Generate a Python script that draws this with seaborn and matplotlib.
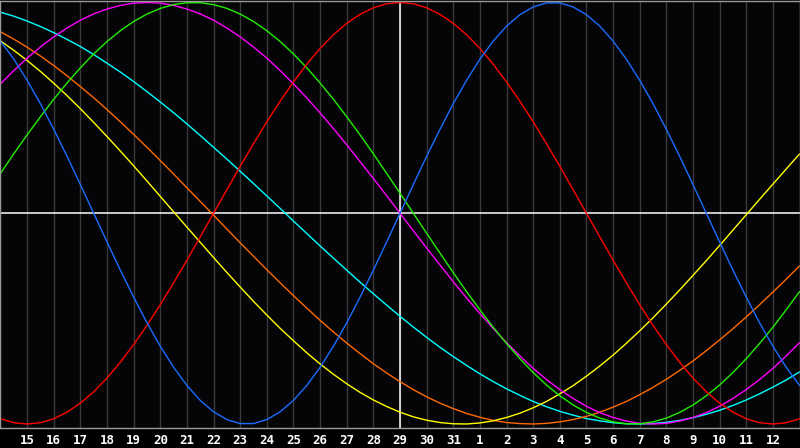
import pandas as pd
import seaborn as sns
import matplotlib.pyplot as plt

# дни на оси: 0 = 14 января ... 30 = 13 февраля, сегодня = 29 января
# значения сняты с графика с шагом в полдня
day_index = [h / 2 for h in range(61)]
tick_days = list(range(1, 30))
tick_labels = [str(d) for d in list(range(15, 32)) + list(range(1, 13))]
today = 15

# значения циклов (от -1 до 1)
physical = [0.817, 0.731, 0.631, 0.520, 0.398, 0.270, 0.136, 0.0, -0.136, -0.270,
            -0.398, -0.520, -0.631, -0.731, -0.817, -0.888, -0.942, -0.979, -0.998, -0.998,
            -0.979, -0.942, -0.888, -0.817, -0.731, -0.631, -0.520, -0.398, -0.270, -0.136,
            0.0, 0.136, 0.270, 0.398, 0.520, 0.631, 0.731, 0.817, 0.888, 0.942,
            0.979, 0.998, 0.998, 0.979, 0.942, 0.888, 0.817, 0.731, 0.631, 0.520,
            0.398, 0.270, 0.136, 0.0, -0.136, -0.270, -0.398, -0.520, -0.631, -0.731, -0.817]
emotional = [-0.975, -0.994, -1.0, -0.994, -0.975, -0.944, -0.901, -0.847, -0.782, -0.707,
             -0.623, -0.532, -0.434, -0.330, -0.223, -0.112, 0.0, 0.112, 0.223, 0.330,
             0.434, 0.532, 0.623, 0.707, 0.782, 0.847, 0.901, 0.944, 0.975, 0.994,
             1.0, 0.994, 0.975, 0.944, 0.901, 0.847, 0.782, 0.707, 0.623, 0.532,
             0.434, 0.330, 0.223, 0.112, 0.0, -0.112, -0.223, -0.330, -0.434, -0.532,
             -0.623, -0.707, -0.782, -0.847, -0.901, -0.944, -0.975, -0.994, -1.0, -0.994, -0.975]
intellectual = [0.189, 0.282, 0.372, 0.458, 0.541, 0.618, 0.690, 0.756, 0.815, 0.866,
                0.910, 0.945, 0.972, 0.990, 0.999, 0.999, 0.990, 0.972, 0.945, 0.910,
                0.866, 0.815, 0.756, 0.690, 0.618, 0.541, 0.458, 0.372, 0.282, 0.189,
                0.095, 0.0, -0.095, -0.189, -0.282, -0.372, -0.458, -0.541, -0.618, -0.690,
                -0.756, -0.815, -0.866, -0.910, -0.945, -0.972, -0.990, -0.999, -0.999, -0.990,
                -0.972, -0.945, -0.910, -0.866, -0.815, -0.756, -0.690, -0.618, -0.541, -0.458, -0.372]
intuition = [0.614, 0.677, 0.736, 0.789, 0.837, 0.879, 0.916, 0.946, 0.969, 0.986,
             0.997, 1.0, 0.997, 0.986, 0.969, 0.946, 0.916, 0.879, 0.837, 0.789,
             0.736, 0.677, 0.614, 0.547, 0.476, 0.402, 0.325, 0.245, 0.165, 0.083,
             0.0, -0.083, -0.165, -0.245, -0.325, -0.402, -0.476, -0.547, -0.614, -0.677,
             -0.736, -0.789, -0.837, -0.879, -0.916, -0.946, -0.969, -0.986, -0.997, -1.0,
             -0.997, -0.986, -0.969, -0.946, -0.916, -0.879, -0.837, -0.789, -0.736, -0.677, -0.614]
aesthetic = [0.818, 0.773, 0.725, 0.673, 0.617, 0.558, 0.496, 0.431, 0.364, 0.295,
             0.225, 0.153, 0.080, 0.007, -0.066, -0.138, -0.210, -0.281, -0.350, -0.418,
             -0.483, -0.546, -0.605, -0.662, -0.715, -0.764, -0.809, -0.850, -0.886, -0.917,
             -0.944, -0.966, -0.982, -0.993, -0.999, -1.0, -0.995, -0.985, -0.969, -0.949,
             -0.923, -0.893, -0.857, -0.818, -0.773, -0.725, -0.673, -0.617, -0.558, -0.496,
             -0.431, -0.364, -0.295, -0.225, -0.153, -0.080, -0.007, 0.066, 0.138, 0.210, 0.281]
awareness = [0.861, 0.826, 0.788, 0.746, 0.701, 0.652, 0.601, 0.548, 0.492, 0.434,
             0.374, 0.313, 0.250, 0.186, 0.121, 0.056, -0.009, -0.075, -0.140, -0.204,
             -0.268, -0.330, -0.391, -0.450, -0.508, -0.563, -0.616, -0.666, -0.714, -0.758,
             -0.799, -0.837, -0.871, -0.901, -0.927, -0.950, -0.968, -0.983, -0.993, -0.998,
             -1.0, -0.997, -0.990, -0.979, -0.964, -0.944, -0.920, -0.893, -0.861, -0.826,
             -0.788, -0.746, -0.701, -0.652, -0.601, -0.548, -0.492, -0.434, -0.374, -0.313, -0.250]
spiritual = [0.954, 0.935, 0.912, 0.886, 0.857, 0.825, 0.791, 0.753, 0.712, 0.670,
             0.625, 0.577, 0.528, 0.477, 0.424, 0.369, 0.313, 0.257, 0.199, 0.141,
             0.082, 0.023, -0.037, -0.096, -0.155, -0.213, -0.270, -0.327, -0.382, -0.436,
             -0.489, -0.540, -0.589, -0.636, -0.680, -0.722, -0.762, -0.799, -0.833, -0.864,
             -0.893, -0.918, -0.940, -0.958, -0.974, -0.985, -0.994, -0.999, -1.0, -0.998,
             -0.992, -0.983, -0.970, -0.954, -0.935, -0.912, -0.886, -0.857, -0.825, -0.791, -0.753]

cycles = {
    'spiritual': spiritual,
    'awareness': awareness,
    'aesthetic': aesthetic,
    'intuition': intuition,
    'intellectual': intellectual,
    'emotional': emotional,
    'physical': physical,
}
colors = {
    'spiritual': '#00ffff',
    'awareness': '#ff6a00',
    'aesthetic': '#ffff00',
    'intuition': '#ff00ff',
    'intellectual': '#22ee00',
    'emotional': '#ff0000',
    'physical': '#1a6cff',
}

df = pd.concat([pd.DataFrame({'day': day_index, 'value': v, 'cycle': name})
                for name, v in cycles.items()], ignore_index=True)

sns.set_style('dark')
plt.rcParams['font.family'] = ['DejaVu Sans Mono', 'DejaVu Sans']

fig = plt.figure(figsize=(8, 4.48), dpi=100, facecolor='black')
ax = fig.add_axes([0.0006, 20 / 448, 0.9988, 427.5 / 448])
ax.set_facecolor('#050508')

# сетка по дням
for d in tick_days:
    ax.axvline(d, color='#3a3a3a', linewidth=1.0, zorder=0)

sns.lineplot(data=df, x='day', y='value', hue='cycle', palette=colors,
             hue_order=list(cycles.keys()), linewidth=1.0, legend=False, ax=ax)

# ноль и сегодня
ax.axhline(0, color='white', linewidth=1.1, zorder=1)
ax.axvline(today, color='white', linewidth=1.1, zorder=1)

ax.set_xlim(0, 30)
ax.set_ylim(-1.019, 1.0095)
ax.set_xticks(tick_days)
ax.set_xticklabels(tick_labels, color='white', fontweight='bold', fontsize=9)
ax.set_yticks([])
ax.tick_params(axis='x', length=0, pad=4)
ax.set_xlabel('')
ax.set_ylabel('')
ax.grid(False)
for s in ax.spines.values():
    s.set_visible(True)
    s.set_color('#9a9a9a')
    s.set_linewidth(1.0)

fig.savefig('out.png', dpi=100, facecolor='black')
